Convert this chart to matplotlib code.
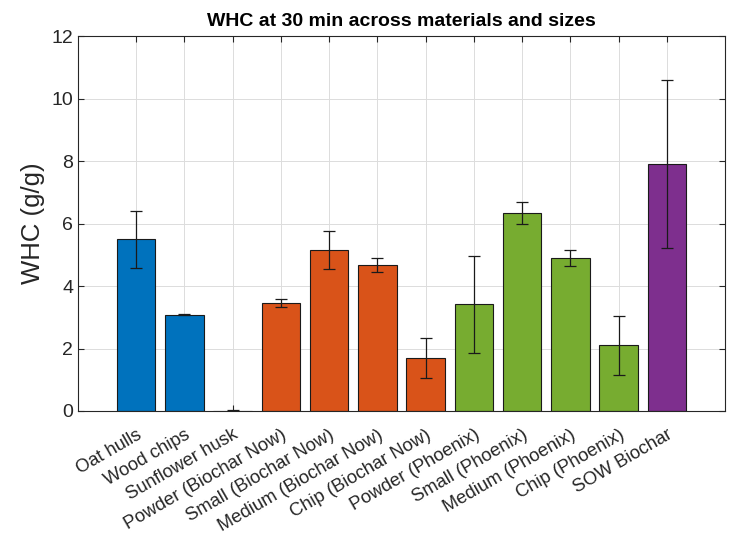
import numpy as np
import matplotlib.pyplot as plt

plt.rcParams['font.family'] = ['Liberation Sans', 'DejaVu Sans']

labels = ['Oat hulls', 'Wood chips', 'Sunflower husk',
          'Powder (Biochar Now)', 'Small (Biochar Now)', 'Medium (Biochar Now)', 'Chip (Biochar Now)',
          'Powder (Phoenix)', 'Small (Phoenix)', 'Medium (Phoenix)', 'Chip (Phoenix)',
          'SOW Biochar']
whc = [5.50, 3.08, 0.0, 3.45, 5.16, 4.67, 1.70, 3.42, 6.34, 4.89, 2.10, 7.91]
err = [0.91, 0.02, 0.03, 0.13, 0.60, 0.23, 0.64, 1.55, 0.36, 0.26, 0.95, 2.68]
groups = ['raw', 'raw', 'raw', 'bn', 'bn', 'bn', 'bn', 'px', 'px', 'px', 'px', 'sow']
group_colors = {'raw': '#0072BD', 'bn': '#D95319', 'px': '#77AC30', 'sow': '#7E2F8E'}

x = np.arange(1, len(labels) + 1)
colors = [group_colors[g] for g in groups]

fig = plt.figure(figsize=(7.3, 5.39), dpi=100)
ax = fig.add_axes([0.107, 0.2375, 0.886, 0.6955])

ax.bar(x, whc, width=0.8, color=colors, edgecolor='#1a1a1a', linewidth=0.8, zorder=2)
ax.errorbar(x, whc, yerr=err, fmt='none', ecolor='#1a1a1a', elinewidth=0.9,
            capsize=4.3, capthick=0.9, zorder=3)

ax.set_xlim(-0.2, 13.2)
ax.set_ylim(0, 12)
ax.set_yticks(np.arange(0, 13, 2))
ax.set_xticks(x)
ax.set_xticklabels(labels, rotation=30, ha='right', rotation_mode='anchor',
                   fontsize=13.2, color='#262626')
ax.tick_params(axis='x', pad=11)
ax.tick_params(axis='y', labelsize=14, colors='#262626')
ax.tick_params(direction='in', top=True, right=True, length=4, color='#262626')

ax.grid(True, color='#dcdcdc', linewidth=0.7, zorder=0)
ax.set_axisbelow(True)
for s in ax.spines.values():
    s.set_color('#262626')
    s.set_linewidth(0.8)

ax.set_ylabel('WHC (g/g)', fontsize=18.5, color='#262626', labelpad=5)
ax.set_title('WHC at 30 min across materials and sizes', fontsize=14,
             fontweight='bold', color='black', pad=7)

fig.savefig('out.png', dpi=100)
